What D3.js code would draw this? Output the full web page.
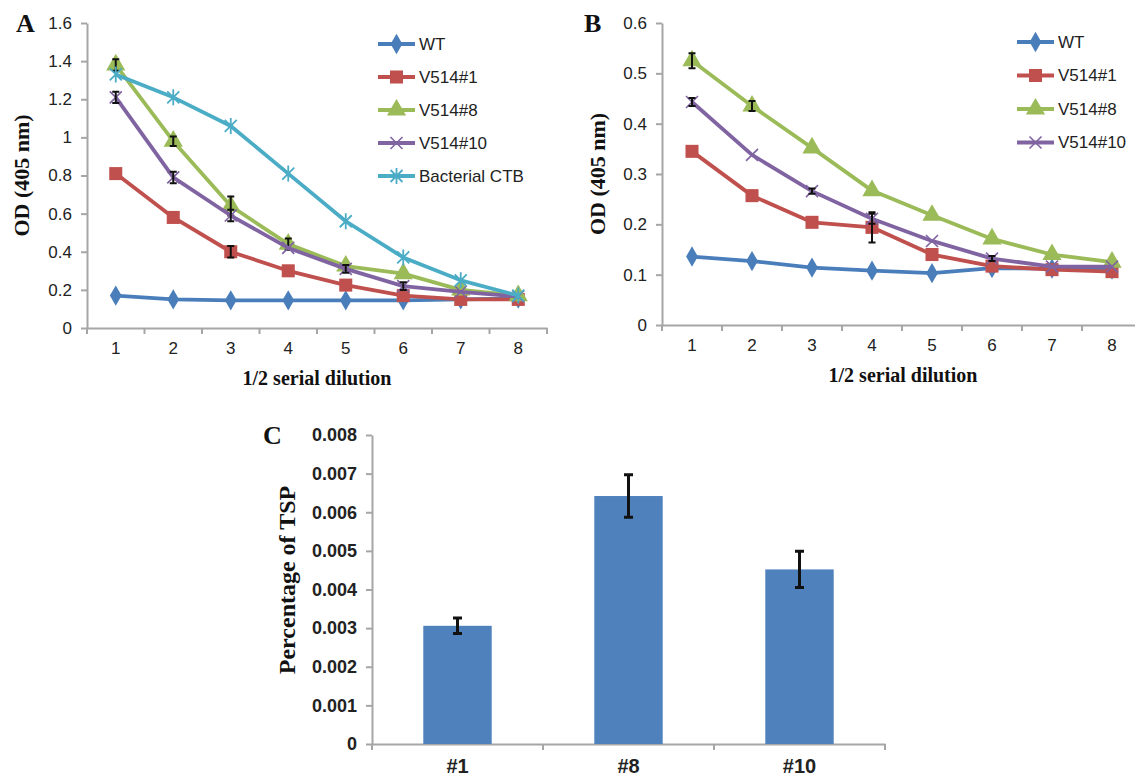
<!DOCTYPE html>
<html>
<head>
<meta charset="utf-8">
<script src="https://cdn.jsdelivr.net/npm/d3@7"></script>
<style>
  body { margin: 0; background: #fff; }
  svg { display: block; }
  .tick text { font-family: "Liberation Sans", Arial, sans-serif; fill: #222; }
</style>
</head>
<body>
<svg width="1135" height="777"></svg>
<script>
// ---- data ----
var dilutions = [1, 2, 3, 4, 5, 6, 7, 8];

var seriesNamesA = ["WT", "V514#1", "V514#8", "V514#10", "Bacterial CTB"];
var wtA    = [0.17, 0.15, 0.145, 0.145, 0.145, 0.145, 0.15, 0.155];
var v1A    = [0.81, 0.58, 0.40, 0.30, 0.225, 0.17, 0.15, 0.15];
var v8A    = [1.38, 0.98, 0.64, 0.44, 0.325, 0.285, 0.20, 0.17];
var v10A   = [1.21, 0.79, 0.59, 0.42, 0.31, 0.22, 0.19, 0.165];
var ctbA   = [1.33, 1.21, 1.06, 0.81, 0.56, 0.37, 0.25, 0.17];
var wtAErr  = [0, 0, 0, 0, 0, 0, 0, 0];
var v1AErr  = [0, 0, 0.03, 0, 0, 0, 0, 0];
var v8AErr  = [0.03, 0.025, 0.05, 0.03, 0, 0, 0, 0];
var v10AErr = [0.03, 0.03, 0.03, 0, 0.02, 0.02, 0, 0];
var ctbAErr = [0, 0, 0, 0, 0, 0, 0, 0];
var yTicksA = [0, 0.2, 0.4, 0.6, 0.8, 1, 1.2, 1.4, 1.6];

var seriesNamesB = ["WT", "V514#1", "V514#8", "V514#10"];
var wtB   = [0.136, 0.127, 0.114, 0.108, 0.103, 0.113, 0.112, 0.11];
var v1B   = [0.345, 0.257, 0.204, 0.194, 0.14, 0.117, 0.11, 0.106];
var v8B   = [0.525, 0.435, 0.352, 0.267, 0.218, 0.171, 0.14, 0.125];
var v10B  = [0.443, 0.338, 0.266, 0.211, 0.167, 0.132, 0.116, 0.116];
var wtBErr  = [0, 0, 0, 0, 0, 0, 0, 0];
var v1BErr  = [0, 0, 0, 0.03, 0, 0, 0, 0];
var v8BErr  = [0.015, 0.01, 0, 0, 0, 0, 0, 0];
var v10BErr = [0.008, 0, 0.005, 0.01, 0, 0.005, 0, 0];
var yTicksB = [0, 0.1, 0.2, 0.3, 0.4, 0.5, 0.6];

var linesC = ["#1", "#8", "#10"];
var tspC   = [0.00306, 0.00642, 0.00452];
var tspErr = [0.0002, 0.00055, 0.00047];
var yTicksC = [0, 0.001, 0.002, 0.003, 0.004, 0.005, 0.006, 0.007, 0.008];

// ---- styles ----
var colors  = ["#4a7ebb", "#c0504d", "#9bbb59", "#8064a2", "#4bacc6"];
var markers = ["diamond", "square", "triangle", "x", "star"];
var axisGray = "#a6a6a6";
var sans  = '"Liberation Sans", Arial, sans-serif';
var serif = '"Liberation Serif", "Times New Roman", serif';

var svg = d3.select("svg");

function drawMarker(g, type, color) {
  if (type === "diamond") {
    g.append("path").attr("d", d3.symbol(d3.symbolDiamond, 120)()).attr("fill", color);
  } else if (type === "square") {
    g.append("path").attr("d", d3.symbol(d3.symbolSquare, 170)()).attr("fill", color);
  } else if (type === "triangle") {
    g.append("path").attr("d", d3.symbol(d3.symbolTriangle, 160)()).attr("fill", color);
  } else if (type === "x") {
    g.append("path").attr("d", "M-6,-6L6,6M-6,6L6,-6")
      .attr("stroke", color).attr("stroke-width", 1.6).attr("fill", "none");
  } else {
    g.append("path").attr("d", "M-6,-6L6,6M-6,6L6,-6M0,-8L0,8")
      .attr("stroke", color).attr("stroke-width", 1.8).attr("fill", "none");
  }
}

function linePanel(opt) {
  var x = d3.scaleBand().domain(dilutions).range(opt.xRange);
  var y = d3.scaleLinear().domain([0, opt.yMax]).range(opt.yRange);
  var g = svg.append("g");
  var cx = function(d) { return x(d) + x.bandwidth() / 2; };

  // y axis
  var ya = g.append("g")
    .attr("transform", "translate(" + opt.xRange[0] + ",0)")
    .call(d3.axisLeft(y).tickValues(opt.yTicks).tickSize(6).tickSizeOuter(0).tickPadding(9)
      .tickFormat(function(d) { return String(+d.toFixed(1)); }));
  ya.select(".domain").attr("stroke", axisGray).attr("stroke-width", 2);
  ya.selectAll(".tick line").attr("stroke", axisGray).attr("stroke-width", 2);
  ya.selectAll(".tick text").attr("font-size", 17).attr("font-family", sans);

  // x axis: ticks at band edges, labels at centres
  var xa = g.append("g")
    .attr("transform", "translate(0," + opt.yRange[0] + ")")
    .call(d3.axisBottom(x).tickSize(0).tickPadding(14));
  xa.select(".domain").attr("stroke", axisGray).attr("stroke-width", 2);
  xa.selectAll(".tick text").attr("font-size", 17).attr("font-family", sans);
  xa.selectAll(".edge").data(dilutions.concat([null])).enter().append("line")
    .attr("x1", function(d, i) { return opt.xRange[0] + i * x.step(); })
    .attr("x2", function(d, i) { return opt.xRange[0] + i * x.step(); })
    .attr("y1", 0).attr("y2", 6)
    .attr("stroke", axisGray).attr("stroke-width", 2);

  var line = d3.line().x(function(d) { return cx(d.k); }).y(function(d) { return y(d.v); });

  opt.series.forEach(function(vals, si) {
    var pts = vals.map(function(v, i) { return { k: dilutions[i], v: v, e: opt.errs[si][i] }; });
    g.append("path").datum(pts).attr("d", line)
      .attr("fill", "none").attr("stroke", colors[si]).attr("stroke-width", 3.8)
      .attr("stroke-linejoin", "round");
    pts.forEach(function(p) {
      var m = g.append("g").attr("transform", "translate(" + cx(p.k) + "," + y(p.v) + ")");
      drawMarker(m, markers[si], colors[si]);
    });
    g.selectAll(null).data(pts.filter(function(p) { return p.e > 0; })).enter().append("path")
      .attr("d", function(p) {
        var xc = cx(p.k), y0 = y(p.v - p.e), y1 = y(p.v + p.e);
        return "M" + (xc - 3.5) + "," + y1 + "H" + (xc + 3.5) + "M" + xc + "," + y1 + "V" + y0 +
               "M" + (xc - 3.5) + "," + y0 + "H" + (xc + 3.5);
      })
      .attr("stroke", "#111").attr("stroke-width", 2).attr("fill", "none");
  });

  // legend
  var lg = g.append("g");
  opt.names.forEach(function(name, i) {
    var ly = opt.legendY + i * opt.legendStep;
    lg.append("line").attr("x1", opt.legendX).attr("x2", opt.legendX + 37)
      .attr("y1", ly).attr("y2", ly).attr("stroke", colors[i]).attr("stroke-width", 3.8);
    var m = lg.append("g").attr("transform", "translate(" + (opt.legendX + 18.5) + "," + ly + ")");
    drawMarker(m, markers[i], colors[i]);
    lg.append("text").attr("x", opt.legendX + 41).attr("y", ly).attr("dy", "0.35em")
      .attr("font-family", sans).attr("font-size", 17).attr("fill", "#222").text(name);
  });

  // titles
  g.append("text").attr("transform", "translate(" + opt.yTitleX + "," + ((opt.yRange[0] + opt.yRange[1]) / 2) + ") rotate(-90)")
    .attr("text-anchor", "middle").attr("font-family", serif).attr("font-weight", "bold")
    .attr("font-size", 22).attr("fill", "#111").text("OD (405 nm)");
  g.append("text").attr("x", opt.xTitleX).attr("y", opt.yRange[0] + 57)
    .attr("text-anchor", "middle").attr("font-family", serif).attr("font-weight", "bold")
    .attr("font-size", 20).attr("fill", "#111").text("1/2 serial dilution");
  g.append("text").attr("x", opt.letterX).attr("y", opt.yRange[1] + 9)
    .attr("font-family", serif).attr("font-weight", "bold").attr("font-size", 26)
    .attr("fill", "#111").text(opt.letter);
}

linePanel({
  letter: "A", letterX: 16, xRange: [87, 547], yRange: [328, 23], yMax: 1.6, yTicks: yTicksA,
  series: [wtA, v1A, v8A, v10A, ctbA], errs: [wtAErr, v1AErr, v8AErr, v10AErr, ctbAErr],
  names: seriesNamesA, legendX: 378, legendY: 44, legendStep: 33, yTitleX: 29, xTitleX: 317
});

linePanel({
  letter: "B", letterX: 584, xRange: [662, 1142], yRange: [325, 23], yMax: 0.6, yTicks: yTicksB,
  series: [wtB, v1B, v8B, v10B], errs: [wtBErr, v1BErr, v8BErr, v10BErr],
  names: seriesNamesB, legendX: 1017, legendY: 42, legendStep: 33.5, yTitleX: 605, xTitleX: 903
});

// ---- panel C ----
(function() {
  var x = d3.scaleBand().domain(linesC).range([372, 885]);
  var y = d3.scaleLinear().domain([0, 0.008]).range([744, 435]);
  var g = svg.append("g");
  var bw = x.bandwidth() * 0.4;

  var ya = g.append("g").attr("transform", "translate(372,0)")
    .call(d3.axisLeft(y).tickValues(yTicksC).tickSize(6).tickSizeOuter(0).tickPadding(9)
      .tickFormat(function(d) { return d === 0 ? "0" : d3.format(".3f")(d); }));
  ya.select(".domain").attr("stroke", axisGray).attr("stroke-width", 2);
  ya.selectAll(".tick line").attr("stroke", axisGray).attr("stroke-width", 2);
  ya.selectAll(".tick text").attr("font-size", 18).attr("font-weight", "bold").attr("font-family", sans);

  var xa = g.append("g").attr("transform", "translate(0,744)")
    .call(d3.axisBottom(x).tickSize(0).tickPadding(15));
  xa.select(".domain").attr("stroke", axisGray).attr("stroke-width", 2);
  xa.selectAll(".tick text").attr("font-size", 20).attr("font-weight", "bold")
    .attr("font-family", serif).attr("fill", "#111");
  xa.selectAll(".edge").data(linesC.concat([null])).enter().append("line")
    .attr("x1", function(d, i) { return 372 + i * x.step(); })
    .attr("x2", function(d, i) { return 372 + i * x.step(); })
    .attr("y1", 0).attr("y2", 6).attr("stroke", axisGray).attr("stroke-width", 2);

  var data = linesC.map(function(k, i) { return { k: k, v: tspC[i], e: tspErr[i] }; });
  g.selectAll(".bar").data(data).enter().append("rect")
    .attr("x", function(d) { return x(d.k) + (x.bandwidth() - bw) / 2; })
    .attr("width", bw)
    .attr("y", function(d) { return y(d.v); })
    .attr("height", function(d) { return y(0) - y(d.v); })
    .attr("fill", "#4f81bd");
  g.selectAll(".err").data(data).enter().append("path")
    .attr("d", function(d) {
      var xc = x(d.k) + x.bandwidth() / 2, y0 = y(d.v - d.e), y1 = y(d.v + d.e);
      return "M" + (xc - 4.5) + "," + y1 + "H" + (xc + 4.5) + "M" + xc + "," + y1 + "V" + y0 +
             "M" + (xc - 4.5) + "," + y0 + "H" + (xc + 4.5);
    })
    .attr("stroke", "#111").attr("stroke-width", 3).attr("fill", "none");

  g.append("text").attr("transform", "translate(295,580) rotate(-90)")
    .attr("text-anchor", "middle").attr("font-family", serif).attr("font-weight", "bold")
    .attr("font-size", 24).attr("fill", "#111").text("Percentage of TSP");
  g.append("text").attr("x", 263).attr("y", 444)
    .attr("font-family", serif).attr("font-weight", "bold").attr("font-size", 26)
    .attr("fill", "#111").text("C");
})();
</script>
</body>
</html>
